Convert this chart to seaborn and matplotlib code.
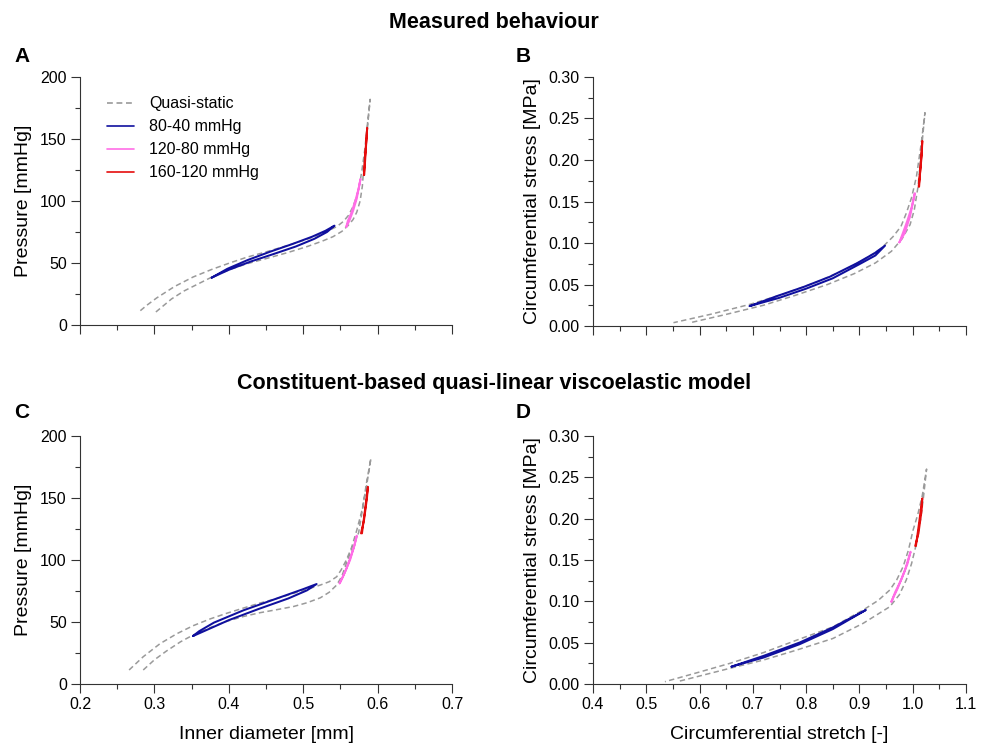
import numpy as np
import pandas as pd
import seaborn as sns
import matplotlib.pyplot as plt
from matplotlib.ticker import MultipleLocator, FormatStrFormatter

# ---------------------------------------------------------------- data
SERIES = ["Quasi-static", "80-40 mmHg", "120-80 mmHg", "160-120 mmHg"]

# Panel A: measured pressure vs inner diameter
a_qs_load_d = [0.302, 0.312, 0.323, 0.340, 0.361, 0.380, 0.402, 0.425, 0.451, 0.478, 0.505, 0.525, 0.540, 0.552, 0.560, 0.567, 0.572, 0.5765, 0.5795, 0.5825, 0.5865, 0.590]
a_qs_load_p = [10.5, 15.5, 21.0, 27.5, 33.8, 39.5, 44.9, 49.5, 53.7, 58.2, 63.2, 67.5, 71.2, 75.5, 80.0, 85.0, 91.0, 100.0, 112.0, 135.0, 160.0, 182.0]
a_qs_unld_d = [0.590, 0.586, 0.5825, 0.579, 0.576, 0.572, 0.567, 0.561, 0.554, 0.545, 0.525, 0.505, 0.478, 0.451, 0.425, 0.402, 0.377, 0.352, 0.327, 0.303, 0.290, 0.279]
a_qs_unld_p = [182.0, 160.0, 140.0, 125.0, 114.0, 104.0, 95.5, 88.5, 83.5, 79.3, 73.5, 69.1, 64.0, 59.1, 54.8, 50.2, 44.8, 38.7, 31.0, 21.8, 16.0, 10.5]
a_c1_d = [0.377, 0.400, 0.430, 0.460, 0.490, 0.515, 0.532, 0.542, 0.530, 0.512, 0.485, 0.455, 0.425, 0.398, 0.377]
a_c1_p = [38.2, 44.5, 51.3, 57.2, 63.3, 69.5, 75.0, 80.1, 76.0, 71.2, 65.2, 59.0, 52.3, 45.3, 38.2]
a_c2_d = [0.558, 0.562, 0.567, 0.572, 0.577, 0.5745, 0.570, 0.5645, 0.560, 0.558]
a_c2_p = [79.3, 84.0, 92.0, 102.0, 117.7, 110.0, 100.0, 90.0, 84.0, 79.3]
a_c3_d = [0.582, 0.5840, 0.5860, 0.5850, 0.5830, 0.5815]
a_c3_p = [121.0, 140.0, 159.0, 150.0, 135.0, 121.0]

# Panel B: measured circumferential stress vs stretch
b_qs_load_s = [0.586, 0.650, 0.720, 0.780, 0.840, 0.890, 0.930, 0.960, 0.980, 0.995, 1.003, 1.010, 1.016, 1.023]
b_qs_load_t = [0.0045, 0.014, 0.025, 0.037, 0.050, 0.063, 0.076, 0.090, 0.105, 0.122, 0.140, 0.168, 0.210, 0.257]
b_qs_unld_s = [1.023, 1.016, 1.007, 0.998, 0.988, 0.978, 0.963, 0.940, 0.907, 0.870, 0.820, 0.760, 0.694, 0.620, 0.551]
b_qs_unld_t = [0.257, 0.220, 0.180, 0.155, 0.136, 0.120, 0.1076, 0.093, 0.0795, 0.067, 0.053, 0.039, 0.026, 0.014, 0.004]
b_c1_s = [0.694, 0.750, 0.800, 0.850, 0.900, 0.930, 0.948, 0.928, 0.895, 0.845, 0.795, 0.745, 0.694]
b_c1_t = [0.024, 0.0340, 0.0450, 0.0575, 0.0745, 0.0850, 0.0968, 0.0875, 0.0755, 0.0595, 0.0470, 0.0360, 0.024]
b_c2_s = [0.975, 0.985, 0.995, 1.004, 0.998, 0.990, 0.981, 0.975]
b_c2_t = [0.1008, 0.112, 0.132, 0.160, 0.143, 0.127, 0.111, 0.1008]
b_c3_s = [1.012, 1.015, 1.018, 1.0168, 1.0138, 1.0112]
b_c3_t = [0.168, 0.195, 0.223, 0.205, 0.185, 0.168]

# Panel C: model pressure vs inner diameter
c_qs_load_d = [0.285, 0.300, 0.316, 0.335, 0.352, 0.375, 0.397, 0.420, 0.442, 0.465, 0.487, 0.505, 0.523, 0.535, 0.545, 0.552, 0.558, 0.566, 0.5745, 0.580, 0.585, 0.591]
c_qs_load_p = [11.3, 19.5, 26.5, 34.0, 39.5, 45.5, 50.5, 54.5, 57.5, 60.0, 62.5, 65.5, 69.5, 74.0, 79.8, 87.0, 97.3, 110.0, 122.0, 142.0, 162.0, 182.0]
c_qs_unld_d = [0.591, 0.585, 0.579, 0.572, 0.565, 0.558, 0.551, 0.545, 0.535, 0.523, 0.505, 0.487, 0.465, 0.442, 0.420, 0.397, 0.375, 0.352, 0.330, 0.3075, 0.285, 0.266]
c_qs_unld_p = [182.0, 159.0, 140.0, 124.0, 110.0, 100.0, 92.0, 86.5, 82.5, 79.8, 76.3, 73.1, 69.0, 65.3, 61.3, 57.0, 52.5, 47.0, 40.5, 32.5, 22.0, 11.3]
c_c1_d = [0.352, 0.370, 0.400, 0.440, 0.480, 0.505, 0.518, 0.500, 0.460, 0.420, 0.380, 0.360, 0.352]
c_c1_p = [38.7, 43.5, 51.5, 60.5, 69.0, 75.5, 80.6, 76.5, 68.0, 59.5, 49.5, 42.5, 38.7]
c_c2_d = [0.549, 0.556, 0.563, 0.568, 0.572, 0.569, 0.564, 0.558, 0.553, 0.549]
c_c2_p = [81.2, 90.0, 100.0, 110.0, 119.6, 112.0, 103.0, 93.0, 86.0, 81.2]
c_c3_d = [0.579, 0.583, 0.587, 0.5857, 0.5817, 0.5777]
c_c3_p = [121.5, 140.0, 159.0, 150.0, 132.0, 121.5]

# Panel D: model circumferential stress vs stretch
d_qs_load_s = [0.563, 0.657, 0.720, 0.782, 0.850, 0.907, 0.957, 0.975, 0.988, 0.998, 1.007, 1.015, 1.020, 1.026]
d_qs_load_t = [0.0036, 0.019, 0.029, 0.041, 0.055, 0.0734, 0.0935, 0.108, 0.126, 0.146, 0.170, 0.200, 0.225, 0.260]
d_qs_unld_s = [1.026, 1.018, 1.0095, 1.0006, 0.992, 0.982, 0.970, 0.957, 0.935, 0.907, 0.850, 0.782, 0.720, 0.657, 0.600, 0.535]
d_qs_unld_t = [0.260, 0.228, 0.205, 0.186, 0.162, 0.142, 0.126, 0.1137, 0.101, 0.0895, 0.069, 0.053, 0.038, 0.025, 0.0145, 0.0028]
d_c1_s = [0.660, 0.720, 0.788, 0.850, 0.912, 0.850, 0.788, 0.720, 0.660]
d_c1_t = [0.021, 0.0320, 0.0482, 0.0664, 0.0895, 0.0684, 0.0502, 0.0340, 0.021]
d_c2_s = [0.960, 0.972, 0.985, 0.996, 0.990, 0.979, 0.967, 0.960]
d_c2_t = [0.0996, 0.116, 0.137, 0.160, 0.145, 0.127, 0.111, 0.0996]
d_c3_s = [1.006, 1.012, 1.018, 1.0167, 1.0107, 1.0047]
d_c3_t = [0.167, 0.195, 0.2246, 0.210, 0.182, 0.167]

PALETTE = {"Quasi-static": "#9a9a9a", "80-40 mmHg": "#10109e",
           "120-80 mmHg": "#ff6ee6", "160-120 mmHg": "#e50d0d"}
DASHES = {"Quasi-static": (3.5, 2.2), "80-40 mmHg": "", "120-80 mmHg": "", "160-120 mmHg": ""}


def panel_frame(qs_load_x, qs_load_y, qs_unld_x, qs_unld_y, c1x, c1y, c2x, c2y, c3x, c3y):
    parts = [
        (SERIES[0], list(qs_load_x) + list(qs_unld_x), list(qs_load_y) + list(qs_unld_y)),
        (SERIES[1], c1x, c1y),
        (SERIES[2], c2x, c2y),
        (SERIES[3], c3x, c3y),
    ]
    rows = []
    for name, xs, ys in parts:
        for i, (x, y) in enumerate(zip(xs, ys)):
            rows.append({"series": name, "order": i, "x": x, "y": y})
    return pd.DataFrame(rows)


frames = {
    "A": panel_frame(a_qs_load_d, a_qs_load_p, a_qs_unld_d, a_qs_unld_p, a_c1_d, a_c1_p, a_c2_d, a_c2_p, a_c3_d, a_c3_p),
    "B": panel_frame(b_qs_load_s, b_qs_load_t, b_qs_unld_s, b_qs_unld_t, b_c1_s, b_c1_t, b_c2_s, b_c2_t, b_c3_s, b_c3_t),
    "C": panel_frame(c_qs_load_d, c_qs_load_p, c_qs_unld_d, c_qs_unld_p, c_c1_d, c_c1_p, c_c2_d, c_c2_p, c_c3_d, c_c3_p),
    "D": panel_frame(d_qs_load_s, d_qs_load_t, d_qs_unld_s, d_qs_unld_t, d_c1_s, d_c1_t, d_c2_s, d_c2_t, d_c3_s, d_c3_t),
}

# ---------------------------------------------------------------- style
sns.set_theme(style="ticks")
plt.rcParams["font.family"] = ["Liberation Sans", "DejaVu Sans"]
plt.rcParams.update({
    "text.color": "black", "axes.labelcolor": "black",
    "axes.linewidth": 0.8, "axes.edgecolor": "#333333",
    "xtick.major.size": 6.5, "ytick.major.size": 6.5,
    "xtick.minor.size": 3.5, "ytick.minor.size": 3.5,
    "xtick.major.width": 0.8, "ytick.major.width": 0.8,
    "xtick.minor.width": 0.8, "ytick.minor.width": 0.8,
    "xtick.color": "#333333", "ytick.color": "#333333",
    "xtick.labelcolor": "black", "ytick.labelcolor": "black",
    "xtick.labelsize": 11.5, "ytick.labelsize": 11.5,
})

fig = plt.figure(figsize=(9.88, 7.44), dpi=100)
W, H = 988, 744


def add_axes(left, top, right, bottom):
    return fig.add_axes([left / W, 1 - bottom / H, (right - left) / W, (bottom - top) / H])


axes = {
    "A": add_axes(80, 77, 452, 325),
    "B": add_axes(593, 77, 966, 326),
    "C": add_axes(80, 436, 452, 684),
    "D": add_axes(593, 436, 966, 684),
}

for key, ax in axes.items():
    df = frames[key]
    sns.lineplot(data=df, x="x", y="y", hue="series", style="series",
                 hue_order=SERIES, style_order=SERIES, palette=PALETTE,
                 dashes=DASHES, sort=False, estimator=None, units="series",
                 linewidth=1.45, legend=(key == "A"), ax=ax)
    for line in ax.get_lines():
        if line.get_color() == PALETTE["Quasi-static"]:
            line.set_linewidth(1.1)
    sns.despine(ax=ax)

    if key in ("A", "C"):
        ax.set_xlim(0.2, 0.7)
        ax.set_ylim(0, 200)
        ax.xaxis.set_major_locator(MultipleLocator(0.1))
        ax.xaxis.set_minor_locator(MultipleLocator(0.05))
        ax.yaxis.set_major_locator(MultipleLocator(50))
        ax.yaxis.set_minor_locator(MultipleLocator(25))
        ax.xaxis.set_major_formatter(FormatStrFormatter("%.1f"))
        ax.set_ylabel("Pressure [mmHg]", fontsize=14)
        ax.yaxis.set_label_coords(-0.128, 0.5)
        ax.set_xlabel("Inner diameter [mm]" if key == "C" else "", fontsize=14)
    else:
        ax.set_xlim(0.4, 1.1)
        ax.set_ylim(0, 0.30)
        ax.xaxis.set_major_locator(MultipleLocator(0.1))
        ax.xaxis.set_minor_locator(MultipleLocator(0.05))
        ax.yaxis.set_major_locator(MultipleLocator(0.05))
        ax.yaxis.set_minor_locator(MultipleLocator(0.025))
        ax.xaxis.set_major_formatter(FormatStrFormatter("%.1f"))
        ax.yaxis.set_major_formatter(FormatStrFormatter("%.2f"))
        ax.set_ylabel("Circumferential stress [MPa]", fontsize=14)
        ax.yaxis.set_label_coords(-0.14, 0.5)
        ax.set_xlabel("Circumferential stretch [-]" if key == "D" else "", fontsize=14)
    if key in ("A", "B"):
        ax.tick_params(axis="x", labelbottom=False)
    ax.xaxis.set_label_coords(0.5, -0.168)
    ax.tick_params(which="both", direction="out", pad=3)

leg = axes["A"].legend(loc="upper left", bbox_to_anchor=(0.055, 0.948), frameon=False,
                       fontsize=11.5, handlelength=1.7, handletextpad=0.95,
                       labelspacing=0.5, borderaxespad=0)
for h in leg.legend_handles:
    h.set_linewidth(1.2)

fig.text(0.5, 1 - 22 / H, "Measured behaviour", ha="center", va="center",
         fontsize=15.5, fontweight="bold")
fig.text(0.5, 1 - 384 / H, "Constituent-based quasi-linear viscoelastic model",
         ha="center", va="center", fontsize=15.5, fontweight="bold")
for lab, (px, py) in {"A": (14, 57), "B": (516, 57), "C": (14, 413), "D": (516, 413)}.items():
    fig.text(px / W, 1 - py / H, lab, ha="left", va="center", fontsize=15, fontweight="bold")

fig.savefig("out.png", dpi=100, facecolor="white")
